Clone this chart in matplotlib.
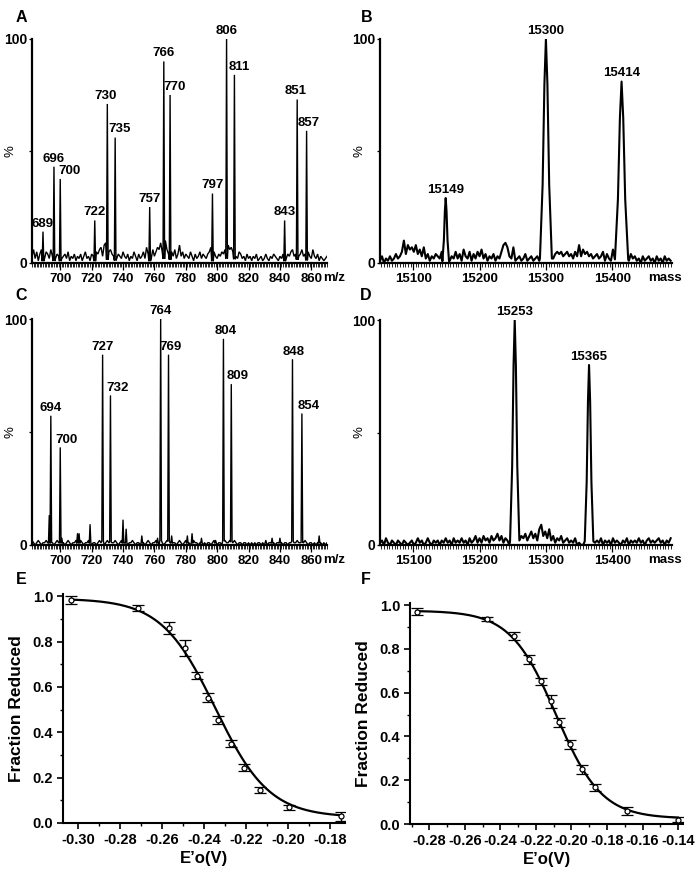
import numpy as np
import matplotlib
matplotlib.use("Agg")
import matplotlib.pyplot as plt
from matplotlib.ticker import MultipleLocator, FixedLocator

plt.rcParams['font.family'] = ['Liberation Sans', 'DejaVu Sans']
plt.rcParams['font.weight'] = 'bold'

# ---------------- data ----------------
# Panel A: ESI m/z spectrum
A_mz_start = 682
A_noise = [3,6,2,5,1,4,6,3,2,5, 4,2,6,3,5,2,4,3,5,2, 3,4,2,5,1,3,2,4,1,3,
           2,4,1,3,5,2,3,1,4,3, 2,5,4,6,7,3,8,9,7,5, 6,4,3,5,2,4,3,2,5,3,
           2,4,1,3,2,5,3,1,4,2, 3,5,2,7,4,3,2,6,3,5, 7,6,9,5,8,10,6,4,7,5,
           3,6,2,4,8,3,5,2,4,3, 2,5,3,1,4,2,3,5,2,4, 3,2,4,5,7,6,5,3,2,4,
           3,5,4,6,7,8,6,7,5,4, 3,2,5,4,2,3,1,4,2,3, 1,3,2,4,1,2,3,1,2,4,
           2,1,3,2,4,3,2,1,3,2, 4,3,2,4,3,5,6,3,4,5, 3,4,6,3,4,2,5,3,2,6,
           3,2,4,1,3,2,1,2,3]
A_peaks = [689, 696, 700, 722, 730, 735, 757, 766, 770, 797, 806, 811, 843, 851, 857]
A_heights = [14, 43, 37.5, 19, 71, 56, 25, 90, 75, 31, 100, 84, 19, 73, 59]

# Panel B: deconvoluted mass spectrum
B_mass_start = 15050
B_noise = [1,3,0,2,1,3,1,2,4,2, 3,5,10,4,8,6,7,5,8,4, 6,3,7,2,4,1,3,2,4,3,
           2,5,0,0,0,1,3,2,5,2, 4,1,6,3,2,5,1,4,2,5, 3,6,2,4,1,3,2,4,1,3,
           2,5,8,9,7,3,2,7,1,2, 3,1,2,4,1,2,3,1,2,3, 1,0,0,0,0,0,0,2,4,5,
           4,5,3,4,5,3,4,2,5,3, 8,3,6,4,5,3,4,2,3,4, 2,3,5,1,4,2,1,6,0,0,
           0,0,0,0,0,1,4,2,3,1, 2,0,3,1,2,3,1,2,0,3, 1,2,0,3,1,2,1]
B_peaks = [15149, 15300, 15414]
B_heights = [29, 100, 81]
B_halfwidths = [5, 9, 10]

# Panel C: ESI m/z spectrum
C_mz_start = 682
C_noise = [2,1,0,1,2,1,0,1,1,2, 1,2,1,1,0,1,2,1,0,2, 1,0,1,2,1,0,1,1,2,1,
           1,2,1,0,1,1,2,1,0,1, 1,0,1,2,1,1,0,1,2,1, 0,1,1,2,1,0,1,2,1,1,
           1,0,1,1,2,1,0,1,1,0, 1,1,0,1,2,1,0,1,1,2, 1,0,1,1,0,1,2,1,1,0,
           1,1,0,1,2,1,0,1,2,1, 1,0,1,2,1,1,0,1,1,0, 1,0,1,1,0,1,2,1,0,1,
           1,0,1,2,1,1,2,1,1,2, 1,0,1,1,0,1,1,0,1,0, 1,0,1,0,1,1,0,1,0,1,
           0,1,1,0,1,0,1,1,0,1, 0,1,1,0,1,1,0,1,1,2, 1,1,0,1,2,1,0,1,1,0,
           1,0,1,2,1,0,1,0,1]
C_peaks = [694, 700, 727, 732, 764, 769, 804, 809, 848, 854]
C_heights = [57, 43, 84, 66, 100, 84, 91, 71, 82, 58]
C_minor_peaks = [693, 701, 711, 712, 719, 740, 742, 752, 762, 771, 781, 784, 790, 799, 831, 835, 840, 865]
C_minor_heights = [13, 3, 5, 5, 9, 11, 7, 4, 3, 4, 4, 5, 3, 2, 2, 3, 3, 4]

# Panel D: deconvoluted mass spectrum
D_mass_start = 15050
D_noise = [1,2,0,3,1,0,2,1,0,2, 1,0,2,1,0,1,2,0,1,3, 1,2,0,1,3,1,0,2,1,2,
           0,2,1,3,1,2,0,3,1,2, 1,3,1,2,0,3,1,2,4,1, 3,1,4,2,3,1,4,2,3,5,
           2,4,1,3,2,0,0,0,0,0, 1,4,3,5,2,4,6,3,5,2, 7,9,4,6,3,7,2,4,1,3,
           2,4,1,2,3,1,2,1,3,0, 1,0,0,0,0,0,1,3,1,2, 1,3,0,2,1,2,0,3,1,2,
           1,0,2,1,3,0,2,1,2,1, 3,1,2,0,2,3,1,2,1,2, 3,1,2,0,2,1,3]
D_peaks = [15253, 15365]
D_heights = [100, 80]
D_halfwidths = [7, 6.5]

# Panel E: redox titration
E_potential = [-0.3032, -0.2714, -0.2567, -0.2489, -0.2432, -0.2381,
               -0.2333, -0.2273, -0.2211, -0.2135, -0.1995, -0.1751]
E_fraction = [0.985, 0.949, 0.86, 0.77, 0.650, 0.552, 0.455, 0.350, 0.244, 0.146, 0.069, 0.029]
E_error = [0.017, 0.012, 0.027, 0.035, 0.017, 0.020, 0.017, 0.015, 0.015, 0.013, 0.012, 0.020]
E_fit = dict(Em=-0.2347, n=2, top=0.99, bottom=0.025)

# Panel F: redox titration
F_potential = [-0.2871, -0.2478, -0.2322, -0.2240, -0.2174, -0.2116,
               -0.2069, -0.2007, -0.1941, -0.1865, -0.1687, -0.1400]
F_fraction = [0.971, 0.936, 0.859, 0.752, 0.652, 0.561, 0.464, 0.364, 0.250, 0.167, 0.061, 0.020]
F_error = [0.015, 0.010, 0.020, 0.020, 0.017, 0.030, 0.020, 0.020, 0.020, 0.015, 0.018, 0.013]
F_fit = dict(Em=-0.2087, n=2, top=0.975, bottom=0.025)

# ---------------- helpers ----------------
fig = plt.figure(figsize=(6.97, 8.74), dpi=100)


def px_axes(l, t, r, b):
    return fig.add_axes([l / 697, 1 - b / 874, (r - l) / 697, (b - t) / 874])


def build_trace(start, step, noise, centers, heights, halfwidths, shape):
    xs = start + step * np.arange(len(noise))
    ys = np.array(noise, float)
    keep = np.ones(len(xs), bool)
    px, py = [], []
    for c, h, hw in zip(centers, heights, halfwidths):
        keep &= np.abs(xs - c) > hw
        for o, f in shape:
            px.append(c + o * hw)
            py.append(max(f * h, 0.8))
    X = np.concatenate([xs[keep], px])
    Y = np.concatenate([ys[keep], py])
    order = np.argsort(X, kind='stable')
    return X[order], Y[order]


spike_shape = [(-1, 0.02), (0, 1), (1, 0.02)]
peak_shape = [(-1, 0.02), (-0.55, 0.35), (-0.25, 0.8), (0, 1), (0.25, 0.8), (0.55, 0.35), (1, 0.02)]


def style_spectrum(ax, xlim, major, minor, unit_label, unit_x, label_x):
    ax.set_xlim(*xlim)
    ax.set_ylim(0, 100)
    for s in ['top', 'right']:
        ax.spines[s].set_visible(False)
    for s in ['left', 'bottom']:
        ax.spines[s].set_linewidth(1.6)
    ax.xaxis.set_major_locator(MultipleLocator(major))
    ax.xaxis.set_minor_locator(MultipleLocator(minor))
    ax.yaxis.set_major_locator(FixedLocator([0, 50, 100]))
    ax.set_yticklabels(['0', '', '100'])
    ax.tick_params(axis='x', which='major', direction='out', length=5, width=0.9, labelsize=9.5, pad=2)
    ax.tick_params(axis='x', which='minor', direction='out', length=3, width=0.6)
    ax.tick_params(axis='y', which='major', direction='out', length=2.5, width=0.9, labelsize=10, pad=1)
    ax.set_ylabel('%', fontsize=9.5, fontweight='normal')
    ax.yaxis.set_label_coords(label_x, 0.5)
    ax.text(unit_x, -0.067, unit_label, transform=ax.transAxes, ha='center', va='center',
            fontsize=9.5, fontweight='bold')


def label_peaks(ax, centers, heights, offsets, fs=9.5):
    for c, h, dx in zip(centers, heights, offsets):
        ax.annotate(str(c), (c, h), xytext=(dx, 1.5), textcoords='offset points',
                    ha='center', va='bottom', fontsize=fs, fontweight='bold',
                    annotation_clip=False)


# ---------------- Panel A ----------------
axA = px_axes(32, 39, 327, 263)
x, y = build_trace(A_mz_start, 1, A_noise, A_peaks, A_heights, [0.5] * len(A_peaks), spike_shape)
axA.plot(x, y, color='black', lw=1.0, solid_joinstyle='miter')
style_spectrum(axA, (682, 870), 20, 1, 'm/z', 1.025, -0.054)
label_peaks(axA, A_peaks, A_heights, [0, 0, 7, 0, -1.5, 3.5, 0, 0, 3.5, 0, 0, 3.5, 0, -1, 1.5])

# ---------------- Panel B ----------------
axB = px_axes(380, 39, 672, 263)
x, y = build_trace(B_mass_start, 3, B_noise, B_peaks, B_heights, B_halfwidths, peak_shape)
axB.plot(x, y, color='black', lw=1.5)
style_spectrum(axB, (15050, 15490), 100, 4, 'mass', 0.976, -0.051)
label_peaks(axB, B_peaks, B_heights, [0, 0, 0])

# ---------------- Panel C ----------------
axC = px_axes(32, 319, 327, 545)
allC = list(C_peaks) + list(C_minor_peaks)
allCh = list(C_heights) + list(C_minor_heights)
x, y = build_trace(C_mz_start, 1, C_noise, allC, allCh, [0.5] * len(allC), spike_shape)
axC.plot(x, y, color='black', lw=1.0)
style_spectrum(axC, (682, 870), 20, 1, 'm/z', 1.025, -0.054)
label_peaks(axC, C_peaks, C_heights, [0, 4.5, 0, 5, 0, 1.5, 1.5, 4.5, 1, 5])

# ---------------- Panel D ----------------
axD = px_axes(380, 320, 672, 545)
x, y = build_trace(D_mass_start, 3, D_noise, D_peaks, D_heights, D_halfwidths, peak_shape)
axD.plot(x, y, color='black', lw=1.5)
style_spectrum(axD, (15050, 15490), 100, 4, 'mass', 0.976, -0.051)
label_peaks(axD, D_peaks, D_heights, [0, 0])


# ---------------- Panels E, F ----------------
def nernst(E, Em, n, top, bottom):
    FRT = 96485.0 / (8.314 * 298.15)
    return bottom + (top - bottom) / (1 + np.exp(n * FRT * (np.asarray(E) - Em)))


def titration(ax, xs, ys, err, fit, xlim):
    ax.errorbar(xs, ys, yerr=err, fmt='o', ms=3.6, mfc='white', mec='black', mew=0.9,
                ecolor='black', elinewidth=1.0, capsize=4, capthick=1.0, zorder=3)
    ex = np.linspace(min(xs), max(xs), 300)
    ax.plot(ex, nernst(ex, **fit), color='black', lw=1.6, zorder=2)
    ax.set_xlim(*xlim)
    ax.set_ylim(0, 1.01)
    for s in ['top', 'right']:
        ax.spines[s].set_visible(False)
    for s in ['left', 'bottom']:
        ax.spines[s].set_linewidth(1.5)
    ax.xaxis.set_major_locator(MultipleLocator(0.02))
    ax.xaxis.set_minor_locator(MultipleLocator(0.01))
    ax.yaxis.set_major_locator(MultipleLocator(0.2))
    ax.yaxis.set_minor_locator(MultipleLocator(0.1))
    ax.xaxis.set_major_formatter(plt.FuncFormatter(lambda v, p: f'{v:.2f}'))
    ax.yaxis.set_major_formatter(plt.FuncFormatter(lambda v, p: f'{v:.1f}'))
    ax.tick_params(which='major', direction='out', length=4, width=1.2, labelsize=10.5, pad=3)
    ax.tick_params(which='minor', direction='out', length=2.5, width=1.0)
    ax.set_xlabel('E’o(V)', fontsize=12, fontweight='bold', labelpad=3)
    ax.set_ylabel('Fraction Reduced', fontsize=12.5, fontweight='bold', labelpad=6)


axE = px_axes(63, 594, 345, 823)
titration(axE, E_potential, E_fraction, E_error, E_fit, (-0.3071, -0.173))
axF = px_axes(410, 603, 683, 824)
titration(axF, F_potential, F_fraction, F_error, F_fit, (-0.2909, -0.1372))

# ---------------- panel letters ----------------
for letter, (lx, ly) in zip('ABCDEF', [(21, 17), (367, 17), (21, 296), (366, 296), (21, 580), (366, 580)]):
    fig.text(lx / 697, 1 - ly / 874, letter, ha='center', va='center', fontsize=11.5, fontweight='bold')

fig.savefig('out.png', dpi=100)
